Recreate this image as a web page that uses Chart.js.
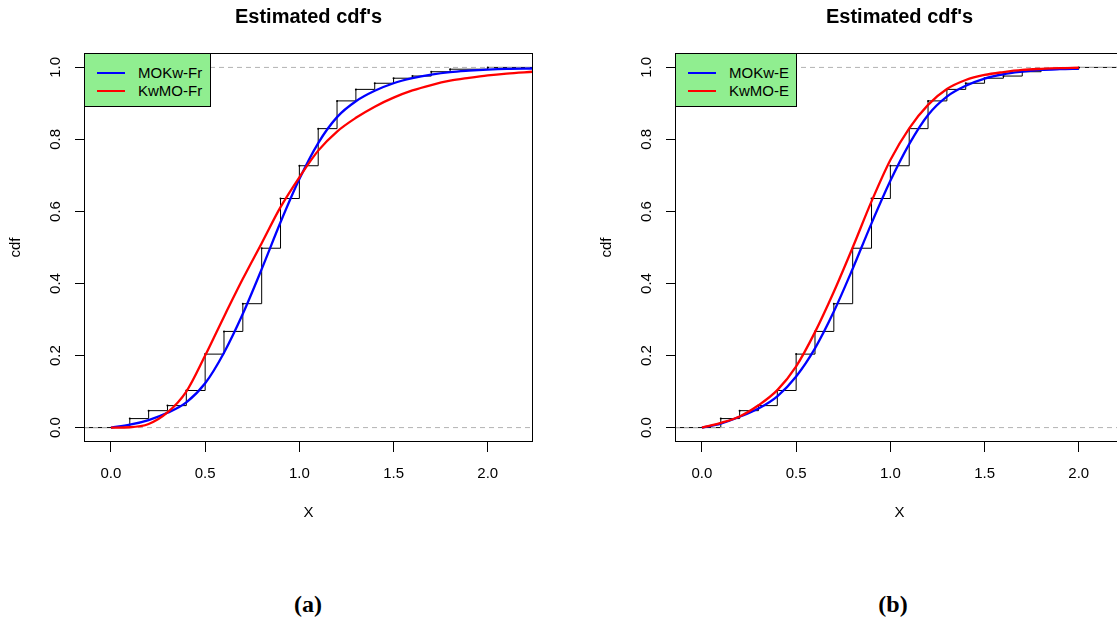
<!DOCTYPE html>
<html>
<head>
<meta charset="utf-8">
<script src="https://cdn.jsdelivr.net/npm/chart.js@4.4.0/dist/chart.umd.min.js"></script>
<style>
  html, body { margin: 0; padding: 0; background: #fff; overflow: hidden; width: 1117px; height: 620px; }
  body { position: relative; font-family: "Liberation Sans", Arial, sans-serif; }
  canvas { position: absolute; top: 0; }
  #cdfA { left: 0; }
  #cdfB { left: 591px; }
  .legend { position: absolute; top: 53px; height: 54px; background: #90ee90; border: 1px solid #000; box-sizing: border-box; }
  .legend .row { position: absolute; left: 0; right: 0; height: 18px; line-height: 18px; font-size: 15px; color: #000; }
  .legend .swatch { position: absolute; left: 12px; top: 8px; width: 28px; height: 0; border-top: 2px solid; }
  .legend .txt { position: absolute; left: 53px; top: 0; white-space: nowrap; }
  .caption { position: absolute; top: 588px; width: 100px; text-align: center; font: bold 24px "Liberation Serif", "Times New Roman", serif; line-height: 32px; color: #000; }
</style>
</head>
<body>
<canvas id="cdfA" width="560" height="540"></canvas>
<canvas id="cdfB" width="560" height="540"></canvas>

<div class="legend" style="left:84px; width:127px;">
  <div class="row" style="top:10px;"><div class="swatch" style="border-top-color:#0000ff"></div><div class="txt">MOKw-Fr</div></div>
  <div class="row" style="top:28px;"><div class="swatch" style="border-top-color:#ff0000"></div><div class="txt">KwMO-Fr</div></div>
</div>
<div class="legend" style="left:675px; width:122px;">
  <div class="row" style="top:10px;"><div class="swatch" style="border-top-color:#0000ff"></div><div class="txt">MOKw-E</div></div>
  <div class="row" style="top:28px;"><div class="swatch" style="border-top-color:#ff0000"></div><div class="txt">KwMO-E</div></div>
</div>

<div class="caption" style="left:258px;">(a)</div>
<div class="caption" style="left:843px;">(b)</div>

<script>
const xTicks = [0, 0.5, 1.0, 1.5, 2.0];
const yTicks = [0, 0.2, 0.4, 0.6, 0.8, 1.0];
const xLimits = [-0.143, 2.24];
const yLimits = [-0.04, 1.04];
const refLevels = [0, 1];

// empirical cdf: jump points and levels
const knots = [0.1, 0.2, 0.3, 0.4, 0.5, 0.6, 0.7, 0.8, 0.9, 1.0, 1.1, 1.2, 1.3, 1.4, 1.5, 1.6, 1.7, 1.8, 2.0];
const ecdfLevels = [0.025, 0.047, 0.061, 0.103, 0.204, 0.267, 0.344, 0.498, 0.636, 0.727, 0.830, 0.907, 0.939, 0.956, 0.970, 0.976, 0.988, 0.995, 1.0];

// panel (a) fitted curves
const gridFr = [0, 0.1, 0.2, 0.3, 0.4, 0.5, 0.6, 0.7, 0.8, 0.9, 1.0, 1.1, 1.2, 1.3, 1.4, 1.5, 1.6, 1.7, 1.8, 1.9, 2.0, 2.1, 2.24];
const mokwFr = [0, 0.008, 0.021, 0.041, 0.070, 0.123, 0.208, 0.316, 0.440, 0.570, 0.690, 0.790, 0.862, 0.906, 0.935, 0.956, 0.970, 0.980, 0.987, 0.991, 0.994, 0.996, 0.997];
const kwmoFr = [0, 0.001, 0.010, 0.042, 0.100, 0.200, 0.308, 0.413, 0.512, 0.612, 0.695, 0.769, 0.822, 0.860, 0.891, 0.916, 0.936, 0.951, 0.963, 0.971, 0.978, 0.983, 0.988];

// panel (b) fitted curves
const gridE = [0, 0.1, 0.2, 0.3, 0.4, 0.5, 0.6, 0.7, 0.8, 0.9, 1.0, 1.1, 1.2, 1.3, 1.4, 1.5, 1.6, 1.7, 1.8, 1.9, 2.0];
const mokwE = [0, 0.011, 0.030, 0.053, 0.087, 0.142, 0.220, 0.322, 0.441, 0.567, 0.685, 0.787, 0.868, 0.919, 0.949, 0.969, 0.981, 0.988, 0.993, 0.995, 0.996];
const kwmoE = [0, 0.013, 0.031, 0.062, 0.104, 0.170, 0.265, 0.377, 0.500, 0.628, 0.743, 0.831, 0.896, 0.940, 0.965, 0.979, 0.987, 0.993, 0.996, 0.998, 0.999];

const family = '"Liberation Sans", Arial, sans-serif';
Chart.defaults.font.family = family;
Chart.defaults.color = '#000';

const frameBox = {
  id: 'frameBox',
  afterDatasetsDraw(chart) {
    const {ctx, chartArea: a} = chart;
    ctx.save();
    ctx.strokeStyle = '#000';
    ctx.lineWidth = 1;
    ctx.strokeRect(a.left + 0.5, a.top + 0.5, a.right - a.left - 1, a.bottom - a.top - 1);
    ctx.restore();
  }
};

const toPoints = (xs, ys) => xs.map((x, i) => ({x, y: ys[i]}));

function buildChart(id, grid, mokw, kwmo) {
  const ecdf = [{x: xLimits[0], y: 0}]
    .concat(toPoints(knots, ecdfLevels))
    .concat([{x: xLimits[1], y: ecdfLevels[ecdfLevels.length - 1]}]);

  const refLines = refLevels.map(level => ({
    data: [{x: xLimits[0], y: level}, {x: xLimits[1], y: level}],
    borderColor: '#b3b3b3',
    borderWidth: 1,
    borderDash: [5, 4],
    pointRadius: 0,
    order: 2
  }));

  return new Chart(document.getElementById(id), {
    type: 'line',
    data: {
      datasets: [
        {
          data: toPoints(grid, kwmo),
          borderColor: '#ff0000',
          borderWidth: 2.3,
          pointRadius: 0,
          cubicInterpolationMode: 'monotone',
          order: 0
        },
        {
          data: toPoints(grid, mokw),
          borderColor: '#0000ff',
          borderWidth: 2.3,
          pointRadius: 0,
          cubicInterpolationMode: 'monotone',
          order: 1
        },
        ...refLines,
        {
          data: ecdf,
          borderColor: '#000',
          borderWidth: 1,
          stepped: true,
          pointRadius: ctx => (ctx.dataIndex > 0 && ctx.dataIndex <= knots.length) ? 1 : 0,
          pointBackgroundColor: '#000',
          pointBorderWidth: 0,
          order: 3
        }
      ]
    },
    options: {
      responsive: false,
      animation: false,
      events: [],
      layout: { padding: { left: 0, right: 27, top: 0, bottom: 0 } },
      plugins: {
        legend: { display: false },
        tooltip: { enabled: false },
        title: {
          display: true,
          text: "Estimated cdf's",
          fullSize: false,
          color: '#000',
          font: { size: 20, weight: 'bold', family },
          padding: { top: 5, bottom: 24 }
        }
      },
      scales: {
        x: {
          type: 'linear',
          min: xLimits[0],
          max: xLimits[1],
          afterBuildTicks: s => { s.ticks = xTicks.map(v => ({value: v})); },
          afterFit: s => { s.height = 98; },
          grid: { drawOnChartArea: false, drawTicks: true, tickLength: 10, color: '#000', lineWidth: 1 },
          border: { display: false },
          ticks: {
            padding: 13,
            color: '#000',
            font: { size: 15, family },
            autoSkip: false,
            maxRotation: 0,
            minRotation: 0,
            callback: v => v.toFixed(1)
          },
          title: {
            display: true,
            text: 'X',
            color: '#000',
            font: { size: 15, family },
            padding: { top: 0, bottom: 18 }
          }
        },
        y: {
          type: 'linear',
          min: yLimits[0],
          max: yLimits[1],
          afterBuildTicks: s => { s.ticks = yTicks.map(v => ({value: v})); },
          afterFit: s => { s.width = 84; },
          grid: { drawOnChartArea: false, drawTicks: true, tickLength: 9, color: '#000', lineWidth: 1 },
          border: { display: false },
          ticks: {
            padding: 8.5,
            color: '#000',
            font: { size: 15, family },
            minRotation: 90,
            maxRotation: 90,
            crossAlign: 'center',
            autoSkip: false,
            callback: v => v.toFixed(1)
          },
          title: {
            display: true,
            text: 'cdf',
            color: '#000',
            font: { size: 15, family },
            padding: { top: 7, bottom: 0 }
          }
        }
      }
    },
    plugins: [frameBox]
  });
}

buildChart('cdfA', gridFr, mokwFr, kwmoFr);
buildChart('cdfB', gridE, mokwE, kwmoE);
</script>
</body>
</html>
